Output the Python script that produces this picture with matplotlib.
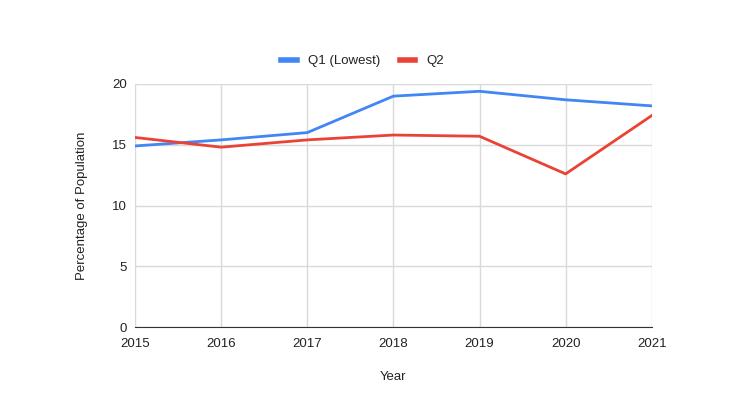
import matplotlib.pyplot as plt

# data
years = [2015, 2016, 2017, 2018, 2019, 2020, 2021]
q1_lowest = [14.9, 15.4, 16.0, 19.0, 19.4, 18.7, 18.2]
q2 = [15.6, 14.8, 15.4, 15.8, 15.7, 12.6, 17.4]
y_ticks = [0, 5, 10, 15, 20]

plt.rcParams["font.family"] = ["Liberation Sans", "DejaVu Sans"]

fig = plt.figure(figsize=(7.5, 4), dpi=100)
ax = fig.add_axes([0.18, 0.1825, 0.689, 0.6075])

ax.plot(years, q1_lowest, color="#4285F4", lw=2, label="Q1 (Lowest)")
ax.plot(years, q2, color="#EA4335", lw=2, label="Q2")

ax.set_xlim(years[0], years[-1])
ax.set_ylim(0, 20)
ax.set_xticks(years)
ax.set_yticks(y_ticks)
ax.grid(True, color="#d9d9d9", lw=1)
ax.set_axisbelow(True)
for s in ["top", "right", "left"]:
    ax.spines[s].set_visible(False)
ax.spines["bottom"].set_color("#333333")
ax.tick_params(length=0, labelsize=9.5, colors="#222222")
ax.tick_params(axis="x", pad=8)
ax.tick_params(axis="y", pad=6)

ax.set_xlabel("Year", fontsize=9.5, color="#222222", labelpad=15)
ax.set_ylabel("Percentage of Population", fontsize=9.5, color="#222222", labelpad=17)

ax.legend(loc="lower center", bbox_to_anchor=(0.44, 1.02), ncol=2, frameon=False,
          fontsize=9.5, handlelength=1.2, handleheight=0.5, columnspacing=1.5,
          labelcolor="#222222")
for line in ax.get_legend().get_lines():
    line.set_linewidth(4)

fig.savefig("out.png", dpi=100)
